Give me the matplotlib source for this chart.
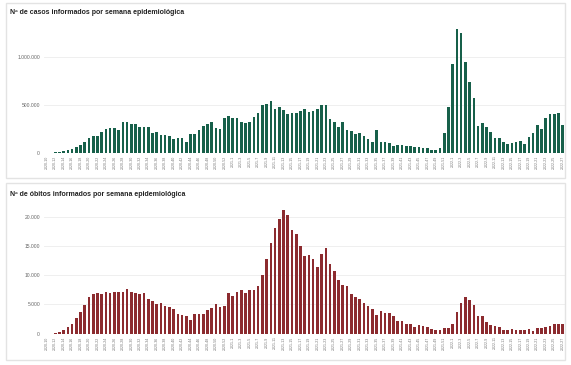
import matplotlib
matplotlib.use('Agg')
import matplotlib.pyplot as plt
from matplotlib.patches import Rectangle
from matplotlib.ticker import FuncFormatter, FixedLocator
import numpy as np

# semanas epidemiologicas (2020-10 ... 2022-27)
semanas = []
for ano, n in [(2020, range(10, 54)), (2021, range(1, 53)), (2022, range(1, 28))]:
    for s in n:
        semanas.append('%d-%d' % (ano, s))

# casos por semana
casos = [0, 0, 3000, 10000, 17000, 25000, 35000, 63000, 77000, 115000,
         150000, 178000, 178000, 213000, 245000, 262000, 262000, 234000, 318000, 318000,
         304000, 304000, 266000, 266000, 266000, 203000, 213000, 189000, 189000, 178000,
         147000, 154000, 157000, 115000, 196000, 196000, 238000, 283000, 304000, 321000,
         262000, 248000, 360000, 381000, 360000, 360000, 321000, 307000, 321000, 374000,
         419000, 500000, 507000, 542000, 461000, 482000, 447000, 402000, 412000, 412000,
         440000, 454000, 423000, 433000, 461000, 503000, 500000, 356000, 321000, 272000,
         321000, 241000, 231000, 196000, 203000, 171000, 147000, 112000, 234000, 112000,
         108000, 105000, 70000, 77000, 77000, 73000, 73000, 59000, 63000, 52000,
         45000, 24000, 24000, 52000, 206000, 475000, 933000, 1300000, 1251000, 950000,
         737000, 573000, 283000, 314000, 266000, 213000, 157000, 157000, 108000, 94000,
         98000, 108000, 119000, 94000, 164000, 206000, 290000, 248000, 363000, 405000,
         402000, 412000, 290000]

# obitos por semana
obitos = [0, 0, 50, 330, 610, 1180, 1580, 2600, 3750, 4900,
          6300, 6700, 7000, 6700, 7150, 7000, 7150, 7150, 7150, 7600,
          7100, 6900, 6700, 6900, 6000, 5600, 5100, 5200, 4700, 4500,
          4200, 3350, 3200, 2950, 2300, 3300, 3300, 3450, 4000, 4400,
          5000, 4600, 4800, 6900, 6500, 7050, 7450, 6950, 7450, 7400,
          8150, 10050, 12700, 15550, 18050, 19600, 21100, 20300, 17700, 17000,
          14900, 13300, 13450, 12800, 11450, 13600, 14600, 11900, 10750, 9200,
          8250, 8150, 6850, 6250, 6000, 5300, 4750, 4200, 3150, 3900,
          3550, 3500, 2950, 2200, 2100, 1600, 1700, 1200, 1550, 1250,
          1100, 800, 570, 680, 900, 970, 1700, 3650, 5200, 6200,
          5700, 4900, 2950, 2950, 1950, 1550, 1250, 1100, 630, 570,
          740, 630, 630, 630, 740, 510, 900, 900, 1200, 1300,
          1600, 1600, 1600]

verde = '#17604a'
vermelho = '#8c2b2f'

W, H = 571, 365
fig = plt.figure(figsize=(W / 100, H / 100), dpi=100)
fig.patch.set_facecolor('white')
plt.rcParams['font.family'] = ['Liberation Sans', 'DejaVu Sans']

def caixa(x0, y0, x1, y1):
    fig.patches.append(Rectangle((x0 / W, 1 - y1 / H), (x1 - x0) / W, (y1 - y0) / H,
                                 transform=fig.transFigure, fill=False,
                                 edgecolor='#e3e3e3', lw=1.0))

def painel(rect, valores, cor, ymax, yticks, titulo, ty):
    ax = fig.add_axes(rect)
    x = np.arange(len(valores))
    ax.bar(x, valores, width=0.62, color=cor, zorder=2)
    ax.set_xlim(-0.6, len(valores) - 0.4)
    ax.set_ylim(0, ymax)
    ax.yaxis.set_major_locator(FixedLocator(yticks))
    ax.yaxis.set_major_formatter(FuncFormatter(lambda v, p: '{:,.0f}'.format(v).replace(',', '.')))
    ax.grid(axis='y', color='#ececec', lw=0.6, zorder=0)
    for s in ax.spines.values():
        s.set_visible(False)
    ax.tick_params(axis='y', length=0, labelsize=3.6, labelcolor='#666666', pad=3)
    ax.set_xticks(x[::2])
    ax.set_xticklabels(semanas[::2], rotation=90, fontsize=2.6, color='#777777')
    ax.tick_params(axis='x', length=0, pad=2)
    fig.text(10 / W, 1 - ty / H, titulo, fontsize=5, fontweight='bold', color='#222222',
             va='center', ha='left')
    return ax

caixa(6, 3, 565, 178)
caixa(6, 183, 565, 360)

painel([44.2 / W, 1 - 152.7 / H, 521 / W, 133.7 / H], casos, verde, 1.4e6,
       [0, 500000, 1000000], 'Nº de casos informados por semana epidemiológica', 12)
painel([44.2 / W, 1 - 333.7 / H, 521 / W, 131.7 / H], obitos, vermelho, 22500,
       [0, 5000, 10000, 15000, 20000], 'Nº de óbitos informados por semana epidemiológica', 194)

fig.savefig('out.png', dpi=100, facecolor='white')
